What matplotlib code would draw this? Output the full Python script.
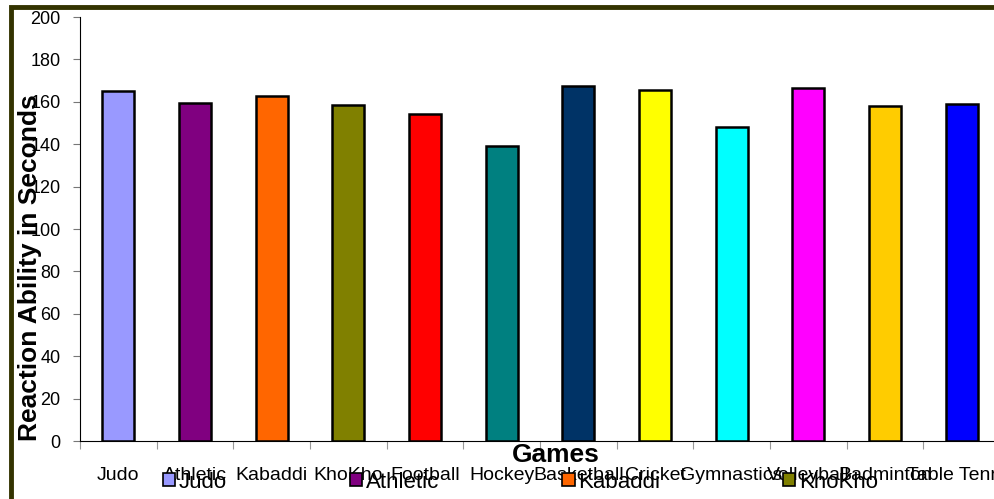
import matplotlib.pyplot as plt
from matplotlib.patches import Rectangle
import numpy as np

plt.rcParams['font.family'] = ['Liberation Sans', 'DejaVu Sans']

games = ['Judo', 'Athletic', 'Kabaddi', 'KhoKho', 'Football', 'Hockey',
         'Basketball', 'Cricket', 'Gymnastics', 'Volleyball', 'Badminton', 'Table Tennis']
reaction = [165.1, 159.2, 162.9, 158.5, 154.3, 139.3,
            167.5, 165.6, 148.3, 166.4, 158.2, 159.1]
colors = ['#9999ff', '#800080', '#ff6600', '#808000', '#ff0000', '#008080',
          '#003366', '#ffff00', '#00ffff', '#ff00ff', '#ffcc00', '#0000ff']

fig = plt.figure(figsize=(9.94, 4.99), dpi=100)
ax = fig.add_axes([80 / 994, 1 - 441 / 499, 920 / 994, 424 / 499])

x = np.arange(len(games))
ax.bar(x, reaction, width=0.42, color=colors, edgecolor='black', linewidth=1.8)

ax.set_xlim(-0.5, len(games) - 0.5)
ax.set_ylim(0, 200)
ax.set_yticks(range(0, 201, 20))
ax.tick_params(axis='y', labelsize=13, length=5, color='#777777', pad=9)

# ticks between categories, labels under bars
ax.set_xticks(np.arange(-0.5, len(games), 1))
ax.set_xticklabels([])
ax.set_xticks(x, minor=True)
ax.set_xticklabels(games, minor=True)
ax.tick_params(axis='x', which='major', length=6, color='#999999')
ax.tick_params(axis='x', which='minor', length=0, labelsize=14, pad=19)

for s in ['top', 'right']:
    ax.spines[s].set_visible(False)

fig.text(556 / 994, 1 - 455 / 499, 'Games', fontsize=19, fontweight='bold', ha='center', va='center')
fig.text(30 / 994, 1 - 268 / 499, 'Reaction Ability in Seconds', fontsize=19, fontweight='bold',
         rotation=90, ha='center', va='center')

handles = [Rectangle((0, 0), 1, 1, facecolor=c, edgecolor='black', linewidth=1.2) for c in colors]
fig.legend(handles, games, loc='center left', bbox_to_anchor=(163 / 994, 1 - 482 / 499),
           ncol=len(games), frameon=False, fontsize=16, handlelength=0.55, handleheight=0.55,
           handletextpad=0.15, columnspacing=5.55, borderpad=0, borderaxespad=0)

# outer frame
fig.add_artist(Rectangle((10.5 / 994, -0.1), 1.2, 1 - 6.5 / 499 + 0.1, transform=fig.transFigure,
                         fill=False, edgecolor='#333300', linewidth=3.5, clip_on=False))

fig.savefig('out.png', dpi=100)
